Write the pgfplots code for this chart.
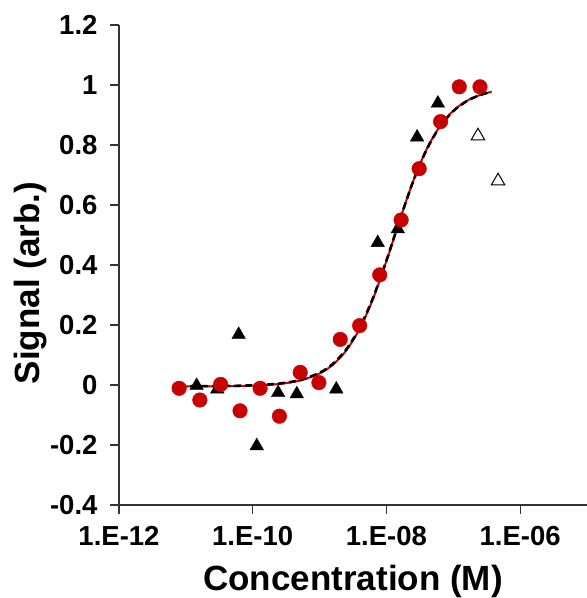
\documentclass[border=0pt]{standalone}
\usepackage{fontspec}
\setmainfont{Liberation Sans}
\usepackage{pgfplots}
\pgfplotsset{compat=1.18}
\usetikzlibrary{calc}
\definecolor{fitred}{RGB}{200,0,0}

\begin{document}
\begin{tikzpicture}
\begin{axis}[
  width=468pt, height=480pt, scale only axis,
  xmode=log, xmin=1e-12, xmax=1e-5,
  ymin=-0.4, ymax=1.2,
  axis lines*=left,
  axis line style={black!80, line width=1.2pt},
  every tick/.style={black!80, line width=1.2pt},
  tick align=outside, major tick length=9pt,
  xtick={1e-12,1e-10,1e-8,1e-6},
  xticklabels={1.E-12,1.E-10,1.E-08,1.E-06},
  xminorticks=false,
  ytick={-0.4,-0.2,0,0.2,0.4,0.6,0.8,1,1.2},
  yticklabels={-0.4,-0.2,0,0.2,0.4,0.6,0.8,1,1.2},
  tick label style={font=\fontsize{27.5}{27.5}\selectfont\bfseries},
  xticklabel shift=9pt,
  yticklabel shift=9pt,
  xlabel={Concentration (M)},
  ylabel={Signal (arb.)},
  label style={font=\fontsize{35}{35}\selectfont\bfseries},
  xlabel style={at={(rel axis cs:0.5,0)}, anchor=base, yshift=-85pt},
  ylabel style={at={(rel axis cs:0,0.4625)}, anchor=center, yshift=88pt},
  clip=false,
]
\coordinate (bl) at (rel axis cs:0,0);
\coordinate (tr) at (rel axis cs:1,1);
% black triangles
\addplot[only marks, mark=triangle*, mark size=7.8pt, black] coordinates {
  (1.45e-11,-0.002) (2.95e-11,-0.014) (6.17e-11,0.168) (1.15e-10,-0.203)
  (2.40e-10,-0.026) (4.57e-10,-0.030) (1.78e-9,-0.014) (7.41e-9,0.474)
  (1.48e-8,0.520) (2.88e-8,0.826) (5.89e-8,0.939)
};
% open triangles (excluded)
\addplot[only marks, mark=triangle, mark size=7.8pt, black, mark options={line width=1pt}] coordinates {
  (2.34e-7,0.830) (4.68e-7,0.680)
};
% red circles
\addplot[only marks, mark=*, mark size=7.3pt, fitred, mark options={draw=fitred, fill=fitred}] coordinates {
  (7.94e-12,-0.011) (1.62e-11,-0.050) (3.31e-11,0.002) (6.46e-11,-0.086)
  (1.29e-10,-0.011) (2.51e-10,-0.104) (5.13e-10,0.042) (9.77e-10,0.008)
  (2.04e-9,0.152) (3.98e-9,0.198) (7.94e-9,0.367) (1.66e-8,0.550)
  (3.09e-8,0.721) (6.46e-8,0.878) (1.23e-7,0.994) (2.51e-7,0.994)
};
% fit curves
\addplot[fitred, line width=2pt, smooth] coordinates {
  (7.94e-12,-0.0049) (1.585e-11,-0.0047) (3.16e-11,-0.0043) (6.31e-11,-0.0034)
  (1.26e-10,-0.0012) (2.51e-10,0.0036) (5.01e-10,0.0144) (1e-9,0.0383)
  (1.585e-9,0.0679) (2.51e-9,0.1153) (3.98e-9,0.1870) (6.31e-9,0.2873)
  (1e-8,0.4129) (1.26e-8,0.4811) (1.585e-8,0.5500) (2.51e-8,0.6793)
  (3.98e-8,0.7852) (6.31e-8,0.8625) (1e-7,0.9142) (1.585e-7,0.9468)
  (2.51e-7,0.9667) (3.72e-7,0.9771)
};
\addplot[black, line width=2.6pt, dash pattern=on 7pt off 4pt, smooth] coordinates {
  (7.94e-12,-0.0040) (1.585e-11,-0.0038) (3.16e-11,-0.0034) (6.31e-11,-0.0025)
  (1.26e-10,-0.0002) (2.51e-10,0.0048) (5.01e-10,0.0160) (1e-9,0.0405)
  (1.585e-9,0.0705) (2.51e-9,0.1185) (3.98e-9,0.1905) (6.31e-9,0.2905)
  (1e-8,0.4150) (1.26e-8,0.4825) (1.585e-8,0.5505) (2.51e-8,0.6785)
  (3.98e-8,0.7840) (6.31e-8,0.8610) (1e-7,0.9130) (1.585e-7,0.9460)
  (2.51e-7,0.9665) (3.72e-7,0.9775)
};
\end{axis}
\pgfresetboundingbox
\path ($(bl)+(-119pt,-93pt)$) rectangle ($(tr)+(0pt,25pt)$);
\end{tikzpicture}
\end{document}
